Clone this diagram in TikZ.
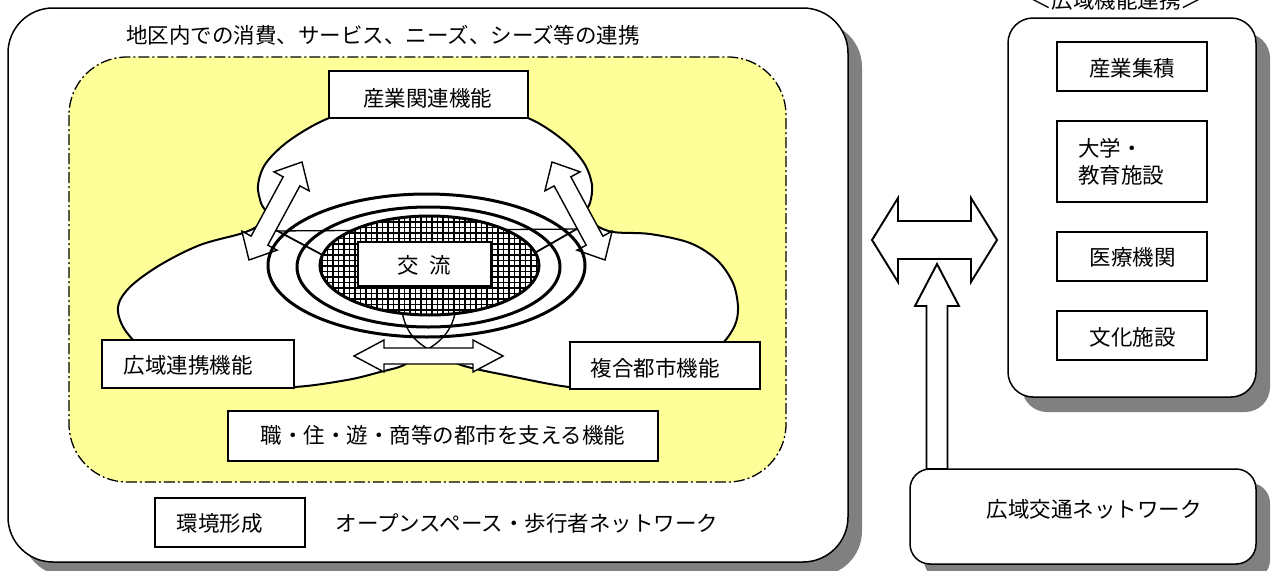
\documentclass[tikz,border=0pt]{standalone}
\usepackage{fontspec}
\newfontfamily\jp{Noto Sans CJK JP}
\definecolor{shadowgray}{HTML}{808080}
\definecolor{paleyellow}{HTML}{FFFF99}
\newcommand\dblarrow[4]{(-#1,0) -- (-#1+#2,#3) -- (-#1+#2,#4) -- (#1-#2,#4) -- (#1-#2,#3) -- (#1,0) -- (#1-#2,-#3) -- (#1-#2,-#4) -- (-#1+#2,-#4) -- (-#1+#2,-#3) -- cycle}
\begin{document}
\begin{tikzpicture}[x=1pt,y=-1pt,
  container/.style={draw=black, line width=1.5pt, fill=white},
  dropshadow/.style={fill=shadowgray, draw=none},
  box/.style={draw=black, line width=2.6pt, fill=white, inner sep=0pt, rectangle},
  txt/.style={inner sep=0pt, font=\jp\fontsize{21.5}{27}\selectfont},
  ring/.style={draw=black, line width=3pt},
  gridline/.style={draw=black, line width=1.4pt},
  blockarrow/.style={draw=black, line width=1.4pt, fill=white, line join=miter},
  bigarrow/.style={draw=black, line width=1.9pt, fill=white, line join=miter},
  thin/.style={draw=black, line width=1.4pt},
]
\useasboundingbox (0,0) rectangle (1271,570);
\fill[white] (0,0) rectangle (1271,570);

% main container
\fill[dropshadow, rounded corners=45pt] (22,22) rectangle (862,576);
\draw[container, rounded corners=45pt] (8,8) rectangle (848,562);
% right container
\fill[dropshadow, rounded corners=25pt] (1022,33) rectangle (1270,412);
\draw[container, rounded corners=25pt] (1008,18) rectangle (1256,397);
% traffic box
\fill[dropshadow, rounded corners=20pt] (924,483) rectangle (1270,580);
\draw[container, rounded corners=20pt] (910,469) rectangle (1256,564);

% yellow region
\draw[fill=paleyellow, line width=1.3pt, dash pattern=on 11pt off 3pt on 2pt off 3pt, rounded corners=58pt] (69,57) rectangle (786,482);

\node[txt] (title) at (383,35) {地区内での消費、サービス、ニーズ、シーズ等の連携};
\node[txt] (rtitle) at (1116,0) {＜広域機能連携＞};

% lobes
\draw[fill=white, line width=2pt] plot[smooth cycle, tension=0.55] coordinates {
 (428,100) (476,104) (528,118) (563,140) (584,163) (592,185) (590,203) (585,213) (594,224)
 (613,232) (650,234) (690,243) (717,260) (733,283) (738,307) (735,325) (723,343)
 (700,362) (660,378) (610,387) (569,387) (510,376) (461,365) (428,349)
 (404,365) (380,372) (347,380) (294,387) (240,385) (190,375) (150,355) (125,330)
 (118,307) (130,287) (160,265) (200,245) (243,233) (260,224) (266,213) (261,203)
 (258,185) (266,163) (290,140) (329,118) (380,104)};

% inner lines
\draw[thin, line width=1.3pt] (272,231) -- (582,229);
\draw[thin, line width=1.8pt] (272,228) -- (330,259);
\draw[thin, line width=1.8pt] (582,226) -- (524,259);
\draw[thin] (401,300) .. controls (402,330) and (415,341) .. (428,349);
\draw[thin] (457,300) .. controls (455,330) and (441,341) .. (428,349);

% diagonal double arrows
\begin{scope}[shift={(275.5,211)}, rotate=61.6]
  \draw[blockarrow] \dblarrow{55.7}{22}{20}{9.5};
\end{scope}
\begin{scope}[shift={(578.5,211)}, rotate=118.4]
  \draw[blockarrow] \dblarrow{55.7}{22}{20}{9.5};
\end{scope}

% rings
\draw[ring] (426.5,265.5) ellipse [x radius=158.5, y radius=71.5];
\draw[ring] (428.5,267) ellipse [x radius=131.5, y radius=60];
\begin{scope}
  \clip (429.5,265.5) ellipse [x radius=109.5, y radius=49.5];
  \fill[white] (300,200) rectangle (560,330);
  \foreach \gx in {300,305.5,...,560} \draw[gridline] (\gx,200) -- (\gx,330);
  \foreach \gy in {200,205.5,...,330} \draw[gridline] (300,\gy) -- (560,\gy);
\end{scope}
\draw[ring] (429.5,265.5) ellipse [x radius=109.5, y radius=49.5];

% small horizontal double arrow
\begin{scope}[shift={(428.5,356)}]
  \draw[blockarrow] \dblarrow{74.5}{30}{16}{8};
\end{scope}

% boxes in main area
\node[box, minimum width=199pt, minimum height=47pt] (bsangyo) at (428.5,94.5) {};
\node[txt] (tsangyo) at (427.5,98) {産業関連機能};
\node[box, minimum width=133pt, minimum height=44pt] (bkoryu) at (424.5,264) {};
\node[txt] (tkoryu) at (424,265) {交\hspace{10pt}流};
\node[box, minimum width=192pt, minimum height=48pt] (bkoiki) at (198,364) {};
\node[txt] (tkoiki) at (188,365) {広域連携機能};
\node[box, minimum width=190pt, minimum height=47pt] (bfukugo) at (665,365.5) {};
\node[txt] (tfukugo) at (655,368) {複合都市機能};
\node[box, minimum width=430pt, minimum height=50pt] (bshoku) at (443,436) {};
\node[txt] (tshoku) at (443,435) {職・住・遊・商等の都市を支える機能};
\node[box, minimum width=150pt, minimum height=49pt] (bkankyo) at (230,522.5) {};
\node[txt] (tkankyo) at (219.5,523) {環境形成};
\node[txt] (topen) at (527,523) {オープンスペース・歩行者ネットワーク};

% right boxes
\node[box, minimum width=150pt, minimum height=49pt] (r1) at (1132,66.5) {};
\node[txt] (tr1) at (1132,68) {産業集積};
\node[box, minimum width=150pt, minimum height=81pt] (r2) at (1132,161.5) {};
\node[txt, align=left, anchor=west] (tr2) at (1078,161.5) {大学・\\教育施設};
\node[box, minimum width=150pt, minimum height=49pt] (r3) at (1132,256.5) {};
\node[txt] (tr3) at (1132.5,257) {医療機関};
\node[box, minimum width=150pt, minimum height=49pt] (r4) at (1132,335.5) {};
\node[txt] (tr4) at (1132.5,337) {文化施設};

\node[txt] (ttraffic) at (1094,509) {広域交通ネットワーク};

% big arrows
\begin{scope}[shift={(934.5,240)}]
  \draw[bigarrow] \dblarrow{62.5}{26}{42}{19};
\end{scope}
\draw[bigarrow] (937,264) -- (959,306) -- (947.5,306) -- (947.5,469) -- (926.5,469) -- (926.5,306) -- (915,306) -- cycle;
\end{tikzpicture}
\end{document}
